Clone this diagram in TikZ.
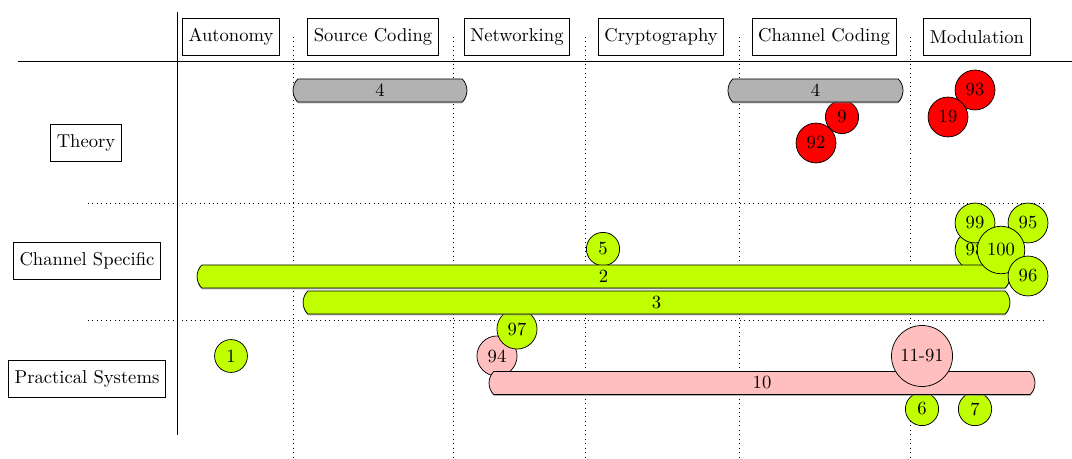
\documentclass[tikz,border=0pt]{standalone}
\usetikzlibrary{shapes.misc, shadows}
\usepackage{xcolor}

\begin{document}
\begin{tikzpicture}[
    x=0.5376pt, y=-0.5376pt,
    topic/.style={draw, rectangle, minimum height=20pt},
    paper/.style={circle, draw},
    theo/.style={paper, fill=red},
    chan/.style={paper, fill=lime},
    prac/.style={paper, fill=red!25},
    bar/.style={rounded rectangle, rounded rectangle arc length=90, draw,
        minimum height=12.4pt, inner sep=0pt,
        drop shadow={shadow xshift=0pt, shadow yshift=-0.7pt, opacity=0.6}},
    sep/.style={dotted}
]
   \useasboundingbox (0,0) rectangle (1072,458);

   % Columns
   \node[topic] (auto) at (231,37) {Autonomy};
   \node[topic] (src)  at (373,37) {Source Coding};
   \node[topic] (net)  at (517,37) {Networking};
   \node[topic] (cry)  at (661,37) {Cryptography};
   \node[topic] (chc)  at (824,37) {Channel Coding};
   \node[topic] (mod)  at (977,37) {Modulation};

   % Rows
   \node[topic] (theory) at (86,143) {Theory};
   \node[topic] (chspec) at (87,261) {Channel Specific};
   \node[topic] (prac)   at (87,379) {Practical Systems};

   % Grid
   \draw (177,12) -- (177,435);
   \draw (18,61) -- (1072,61);
   \foreach \x in {293,453,585,739,910}
      \draw[sep] (\x,37) -- (\x,458);
   \foreach \y in {203,320}
      \draw[sep] (88,\y) -- (1045,\y);

   % Papers below the bars
   \node[theo] (p9)  at (842,117) {9};
   \node[theo] (p92) at (816,143) {92};
   \node[theo] (p93) at (975,90)  {93};
   \node[theo] (p19) at (948,117) {19};
   \node[chan] (p5)  at (603,249) {5};
   \node[chan] (p98) at (975,250) {98};
   \node[chan] (p99) at (975,223) {99};
   \node[chan] (p95) at (1028,223) {95};
   \node[prac] (p94) at (497,356) {94};
   \node[chan] (p97) at (517,329) {97};
   \node[chan] (p6)  at (922,409) {6};
   \node[chan] (p7)  at (975,409) {7};

   % Bars
   \node[bar, fill=black!30, minimum width=93.5pt] (b4a) at (380,90.5) {4};
   \node[bar, fill=black!30, minimum width=94.1pt] (b4b) at (815.5,90.5) {4};
   \node[bar, fill=lime, minimum width=437pt] (b2) at (603.5,276.5) {2};
   \node[bar, fill=lime, minimum width=380pt] (b3) at (656.5,302.5) {3};
   \node[bar, fill=red!25, minimum width=293.5pt] (b10) at (762,383) {10};

   % Papers above the bars
   \node[chan] (p100) at (1001,250) {100};
   \node[chan] (p96)  at (1028,276) {96};
   \node[prac] (p11)  at (922,356) {11-91};
   \node[chan] (p1)   at (231,356) {1};
\end{tikzpicture}
\end{document}
